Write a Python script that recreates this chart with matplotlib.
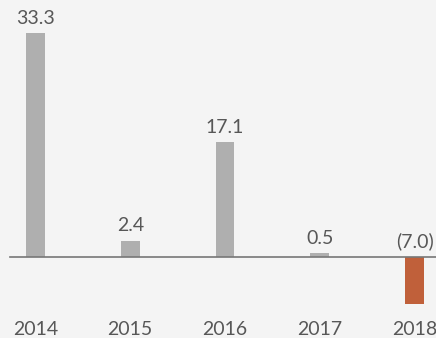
import matplotlib
matplotlib.use("Agg")
import matplotlib.pyplot as plt

years = ["2014", "2015", "2016", "2017", "2018"]
values = [33.3, 2.4, 17.1, 0.5, -7.0]
labels = ["33.3", "2.4", "17.1", "0.5", "(7.0)"]

pos_color = "#afafaf"
neg_color = "#c0603a"
bg = "#f4f4f4"
txt = "#575757"

fig = plt.figure(figsize=(4.36, 3.38), dpi=100, facecolor=bg)
ax = fig.add_axes([0, 0, 1, 1])
ax.set_facecolor(bg)

x = list(range(len(years)))
colors = [pos_color if v >= 0 else neg_color for v in values]
ax.bar(x, values, width=0.2, color=colors, zorder=2)

ax.set_xlim(-0.3747, 4.2269)
ax.set_ylim(-12.1, 38.21)
ax.axhline(0, xmin=10 / 436, xmax=1, color="#777777", lw=1.2, zorder=3)

font = dict(family=["Lato", "DejaVu Sans"], fontweight="normal", color=txt, fontsize=14)
for xi, v, lab in zip(x, values, labels):
    yv = max(v, 0)
    ax.annotate(lab, (xi, yv), xytext=(0, 4.5), textcoords="offset points",
                ha="center", va="bottom", **font)
for xi, yr in zip(x, years):
    ax.text(xi, -11.6, yr, ha="center", va="baseline", **font)

ax.axis("off")
fig.savefig("out.png", dpi=100, facecolor=bg)
